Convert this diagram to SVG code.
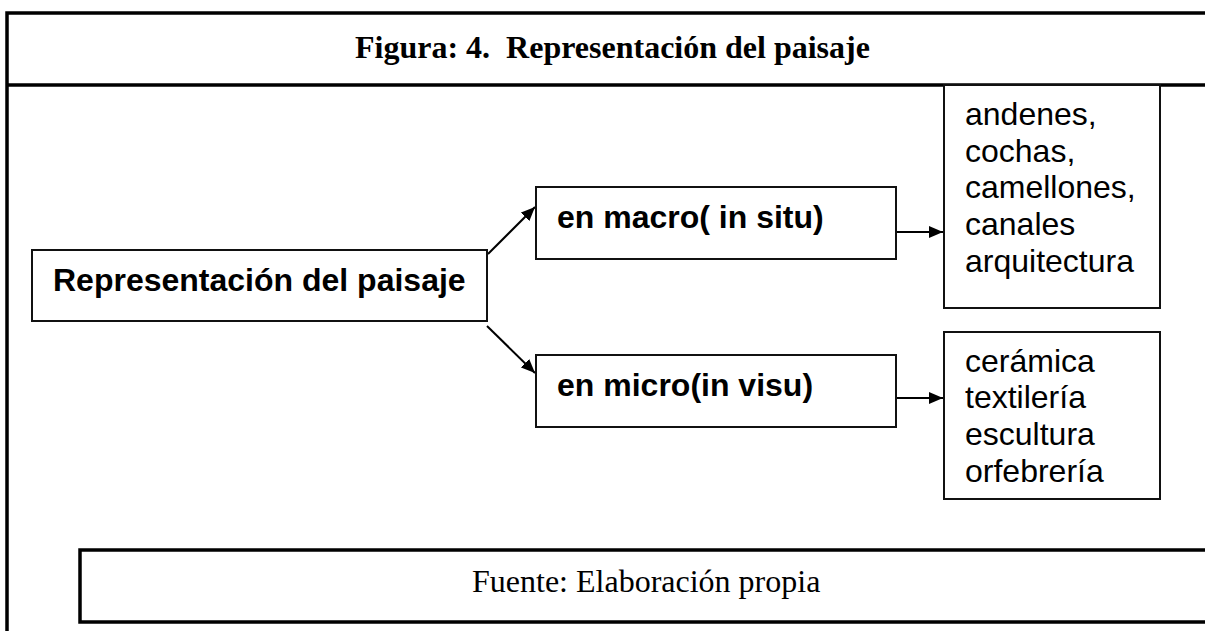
<svg xmlns="http://www.w3.org/2000/svg" width="1205" height="631" viewBox="0 0 1205 631">
<style>
.frame{fill:none;stroke:#000;stroke-width:3.5}
.box{fill:#fff;stroke:#111;stroke-width:2}
.edge{fill:none;stroke:#000;stroke-width:2}
.sans{font-family:"Liberation Sans",Arial,sans-serif;font-size:32px;fill:#000}
.b{font-weight:bold}
.serif{font-family:"Liberation Serif","Times New Roman",serif;font-size:32px;fill:#000}
</style>
<defs>
<marker id="ah" viewBox="0 0 14 12" refX="14" refY="6" markerWidth="14" markerHeight="12" markerUnits="userSpaceOnUse" orient="auto">
<path d="M0,0 L14,6 L0,12 z" fill="#000"/>
</marker>
</defs>
<rect width="1205" height="631" fill="#fff"/>
<g id="frame">
<path class="frame" d="M1205,13 H7 V631"/>
<path class="frame" d="M7,85 H1205"/>
</g>
<g id="title">
<text class="serif b" x="355" y="58" xml:space="preserve">Figura: 4.  Representación del paisaje</text>
</g>
<g id="connectors">
<line class="edge" x1="488" y1="254" x2="535" y2="207" marker-end="url(#ah)"/>
<line class="edge" x1="487" y1="326" x2="535" y2="373" marker-end="url(#ah)"/>
<line class="edge" x1="896" y1="232" x2="943" y2="232" marker-end="url(#ah)"/>
<line class="edge" x1="896" y1="398" x2="943" y2="398" marker-end="url(#ah)"/>
</g>
<g id="n-main">
<rect class="box" x="32" y="250" width="455" height="71"/>
<text class="sans b" x="53" y="291">Representación del paisaje</text>
</g>
<g id="n-macro">
<rect class="box" x="536" y="187" width="360" height="72"/>
<text class="sans b" x="557" y="228">en macro( in situ)</text>
</g>
<g id="n-micro">
<rect class="box" x="536" y="355" width="360" height="72"/>
<text class="sans b" x="557" y="396">en micro(in visu)</text>
</g>
<g id="n-macro-list">
<rect class="box" x="944" y="85" width="216" height="223"/>
<text class="sans" x="965" y="125">andenes,</text>
<text class="sans" x="965" y="161.7">cochas,</text>
<text class="sans" x="965" y="198.4">camellones,</text>
<text class="sans" x="965" y="235.1">canales</text>
<text class="sans" x="965" y="271.8">arquitectura</text>
</g>
<g id="n-micro-list">
<rect class="box" x="944" y="332" width="216" height="167"/>
<text class="sans" x="965" y="371.7">cerámica</text>
<text class="sans" x="965" y="408.3">textilería</text>
<text class="sans" x="965" y="445">escultura</text>
<text class="sans" x="965" y="481.7">orfebrería</text>
</g>
<g id="footer">
<path class="frame" d="M1205,550 H80 V622 H1205"/>
<text class="serif" x="472" y="592">Fuente: Elaboración propia</text>
</g>
</svg>
